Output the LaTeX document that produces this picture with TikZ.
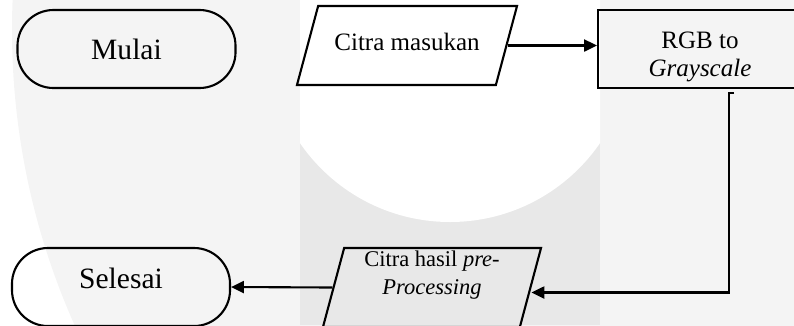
\documentclass[tikz,border=0pt]{standalone}
\usepackage{fontspec}
\setmainfont{Liberation Serif}
\usepackage{tikz}
\usetikzlibrary{calc,shapes.geometric,arrows.meta}
\definecolor{wmlight}{HTML}{F4F4F4}
\definecolor{wmdark}{HTML}{E8E8E8}
\tikzset{
	terminal/.style={draw, line width=1.5pt, rectangle, rounded corners=0.9cm, minimum width=5.45cm, minimum height=1.95cm, font=\fontsize{21}{24}\selectfont},
	proses/.style={draw, line width=1.5pt, rectangle, minimum width=5.1cm, minimum height=1.95cm, align=center, font=\fontsize{17.8}{20}\selectfont},
	datain/.style={draw, line width=1.5pt, trapezium, trapezium left angle=75, trapezium right angle=105, trapezium stretches body, minimum width=5.5cm, align=center, inner xsep=0pt},
	flow/.style={line width=1.5pt, -{Triangle[length=0.32cm,width=0.3cm]}}
}

\begin{document}
\begin{tikzpicture}[x=0.025cm, y=-0.025cm]
		%%%%% START %%%%%
		
		\useasboundingbox (0,0) rectangle (794,325);
		\begin{scope}
			\clip (0,0) rectangle (794,325);
			\fill[wmlight] (737,30) circle (725);
			\fill[wmdark] (300,0) rectangle (600,325);
			\clip (300,0) rectangle (600,325);
			\fill[white] (450,40) circle (182);
		\end{scope}
		
		\node[terminal] (mulai) at (126.5,49) {Mulai};
		\node[datain, font=\fontsize{17.8}{20}\selectfont, text height=13.4pt, text depth=5.6pt, inner ysep=18.6pt] (masukan) at (407,45.5) {Citra masukan};
		\node[proses, text height=42.5pt] (rgb) at (700,49) {RGB to\\\textit{Grayscale}};
		
		\node[datain, minimum width=5.45cm, font=\fontsize{16}{20}\selectfont, text height=32.4pt, text depth=21.8pt, inner ysep=1pt] (hasil) at (432,287.5) {Citra hasil \textit{pre-}\\\textit{Processing}};
		\node[terminal, text depth=13pt] (selesai) at (121,287) {Selesai};
		
		\draw[flow] (masukan.east) -- (masukan.east -| rgb.west);
		\draw[flow] ($(rgb.south)+(34,4)$) -- ++(-5,0) |- ($(hasil.east)+(0,5)$);
		\draw[flow] (hasil.west) -- (selesai.east);
		
		%%%%% END %%%%%
\end{tikzpicture}
\end{document}
